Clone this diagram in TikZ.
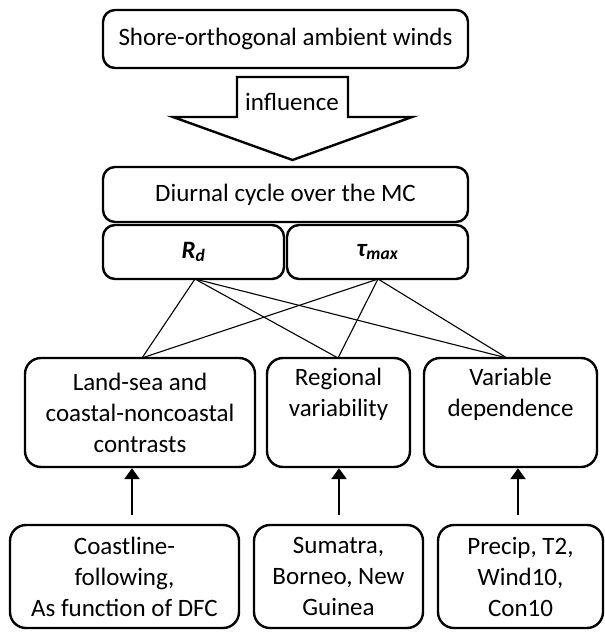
\documentclass[tikz,border=0pt]{standalone}
\usepackage{fontspec}
\setmainfont{Carlito}
\usetikzlibrary{arrows.meta}
\begin{document}
\begin{tikzpicture}[x=1pt,y=-1pt,
  box/.style={draw,line width=2.4pt,rounded corners=12pt,align=center,inner sep=0pt,font=\fontsize{25}{31}\selectfont},
  link/.style={line width=1.1pt},
  uparr/.style={line width=2.6pt,-{Triangle[length=11pt,width=15pt]}}]
\useasboundingbox (0,0) rectangle (605,632);
\node[box,minimum width=365pt,minimum height=58pt] (top) at (285.5,39) {Shore-orthogonal ambient winds};
\node[box,minimum width=365pt,minimum height=55pt] (diu) at (285.5,194.5) {Diurnal cycle over the MC};
\node[box,minimum width=181pt,minimum height=54pt] (rd) at (193.5,252) {\bfseries\itshape R\textsubscript{d}};
\node[box,minimum width=181pt,minimum height=54pt] (tau) at (377.5,252) {\bfseries\itshape τ\textsubscript{max}};
\node[box,rounded corners=16pt,minimum width=230pt,minimum height=109pt] (land) at (140,412.5) {Land-sea and\\coastal-noncoastal\\contrasts};
\node[box,rounded corners=16pt,minimum width=143pt,minimum height=109pt] (reg) at (338.5,412.5) {Regional\\variability\\[0pt]\strut};
\node[box,rounded corners=16pt,minimum width=173pt,minimum height=109pt] (var) at (510.5,412.5) {Variable\\dependence\\[0pt]\strut};
\node[box,rounded corners=16pt,minimum width=229pt,minimum height=103pt] (coast) at (124.5,576.5) {Coastline-\\following,\\As function of DFC};
\node[box,rounded corners=16pt,minimum width=169pt,minimum height=103pt] (sum) at (338.5,576.5) {Sumatra,\\Borneo, New\\Guinea};
\node[box,rounded corners=16pt,minimum width=165pt,minimum height=103pt] (pre) at (520.5,576.5) {Precip, T2,\\Wind10,\\Con10};
% hollow arrow
\draw[line width=2.4pt,line join=miter] (237,77) -- (348,77) -- (348,117) -- (412,117) -- (292.5,160) -- (173,117) -- (237,117) -- cycle;
\node[font=\fontsize{25}{30}\selectfont] (infl) at (292,102) {influence};
% connectors
\coordinate (rdp) at (195,279);
\coordinate (taup) at (378,279);
\coordinate (landp) at (142,358);
\coordinate (regp) at (338,358);
\coordinate (varp) at (507,358);
\foreach \s in {rdp,taup}{
  \foreach \t in {landp,regp,varp}{
    \draw[link] (\s) -- (\t);
  }
}
% up arrows
\coordinate (a1) at (132,515);
\coordinate (a2) at (339,515);
\coordinate (a3) at (518,515);
\draw[uparr] (a1) -- (a1 |- land.south);
\draw[uparr] (a2) -- (a2 |- reg.south);
\draw[uparr] (a3) -- (a3 |- var.south);
\end{tikzpicture}
\end{document}
